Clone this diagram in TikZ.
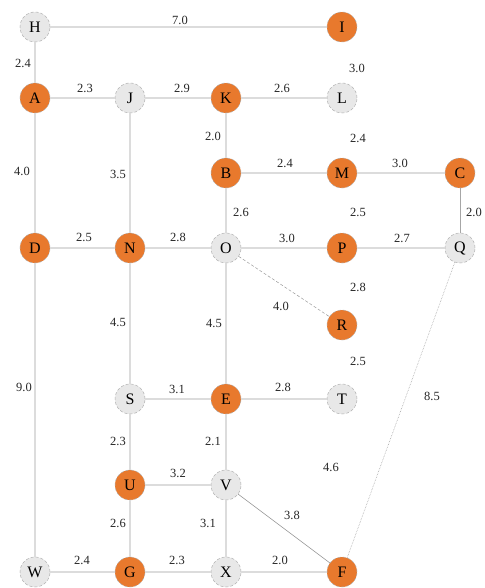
\documentclass[tikz,border=0pt]{standalone}
\usepackage{fontspec}
\setmainfont{Liberation Serif}
\definecolor{hub}{HTML}{E8792D}
\definecolor{plain}{HTML}{E8E8E8}
\definecolor{rim}{HTML}{B0B0B0}
\definecolor{link}{HTML}{DCDCDC}
\begin{document}
\begin{tikzpicture}[x=1pt,y=-1pt,
  vtx/.style={circle,minimum size=30pt,inner sep=0pt,draw=rim,densely dashed,line width=0.5pt,font=\fontsize{16}{16}\selectfont},
  hot/.style={vtx,fill=hub},
  cold/.style={vtx,fill=plain},
  edge/.style={draw=link,line width=1.4pt},
  lbl/.style={font=\fontsize{12.5}{12.5}\selectfont,text=black!85,inner sep=0pt}]
\useasboundingbox (0,0) rectangle (484,588);
% vertices
\node[cold] (H) at (35,27) {H};
\node[hot]  (I) at (342,27) {I};
\node[hot]  (A) at (35,98) {A};
\node[cold] (J) at (130,98) {J};
\node[hot]  (K) at (226,98) {K};
\node[cold] (L) at (342,98) {L};
\node[hot]  (B) at (226,173) {B};
\node[hot]  (M) at (342,173) {M};
\node[hot]  (C) at (460,173) {C};
\node[hot]  (D) at (35,248) {D};
\node[hot]  (N) at (130,248) {N};
\node[cold] (O) at (226,248) {O};
\node[hot]  (P) at (342,248) {P};
\node[cold] (Q) at (460,248) {Q};
\node[hot]  (R) at (342,325) {R};
\node[cold] (S) at (130,399) {S};
\node[hot]  (E) at (226,399) {E};
\node[cold] (T) at (342,399) {T};
\node[hot]  (U) at (130,485) {U};
\node[cold] (V) at (226,485) {V};
\node[cold] (W) at (35,572) {W};
\node[hot]  (G) at (130,572) {G};
\node[cold] (X) at (226,572) {X};
\node[hot]  (F) at (342,572) {F};
% connectors
\path[edge] (H) -- (I);
\path[edge] (H) -- (A);
\path[edge] (A) -- (J);
\path[edge] (J) -- (K);
\path[edge] (K) -- (L);
\path[edge] (K) -- (B);
\path[edge] (B) -- (M);
\path[edge] (M) -- (C);
\path[draw=gray!70,line width=1pt] (C) -- (Q);
\path[edge] (A) -- (D);
\path[edge] (J) -- (N);
\path[edge] (D) -- (N);
\path[edge] (N) -- (O);
\path[edge] (O) -- (P);
\path[edge] (P) -- (Q);
\path[edge] (B) -- (O);
\path[draw=gray!80,densely dashed,line width=0.5pt] (O) -- (R);
\path[edge] (N) -- (S);
\path[edge] (O) -- (E);
\path[edge] (D) -- (W);
\path[edge] (S) -- (E);
\path[edge] (E) -- (T);
\path[edge] (S) -- (U);
\path[edge] (E) -- (V);
\path[edge] (U) -- (V);
\path[edge] (U) -- (G);
\path[edge] (V) -- (X);
\path[draw=gray!80,line width=0.6pt] (V) -- (F);
\path[edge] (W) -- (G);
\path[edge] (G) -- (X);
\path[edge] (X) -- (F);
\path[draw=gray!70,densely dotted,line width=0.6pt] (Q) -- (F);
% weights
\node[lbl] (wHI) at (180,20) {7.0};
\node[lbl] (wHA) at (23,63) {2.4};
\node[lbl] (wAJ) at (85,88) {2.3};
\node[lbl] (wJK) at (182,88) {2.9};
\node[lbl] (wKL) at (282,88) {2.6};
\node[lbl] (wIL) at (357,68) {3.0};
\node[lbl] (wKB) at (213,136) {2.0};
\node[lbl] (wLM) at (358,138) {2.4};
\node[lbl] (wBM) at (285,163) {2.4};
\node[lbl] (wMC) at (400,163) {3.0};
\node[lbl] (wAD) at (22,171) {4.0};
\node[lbl] (wJN) at (118,174) {3.5};
\node[lbl] (wBO) at (241,212) {2.6};
\node[lbl] (wMP) at (358,212) {2.5};
\node[lbl] (wCQ) at (474,212) {2.0};
\node[lbl] (wDN) at (84,237) {2.5};
\node[lbl] (wNO) at (178,237) {2.8};
\node[lbl] (wOP) at (287,238) {3.0};
\node[lbl] (wPQ) at (402,238) {2.7};
\node[lbl] (wPR) at (358,287) {2.8};
\node[lbl] (wOR) at (281,306) {4.0};
\node[lbl] (wNS) at (118,322) {4.5};
\node[lbl] (wOE) at (214,323) {4.5};
\node[lbl] (wRT) at (358,361) {2.5};
\node[lbl] (wDW) at (24,387) {9.0};
\node[lbl] (wSE) at (177,389) {3.1};
\node[lbl] (wET) at (283,387) {2.8};
\node[lbl] (wQF) at (432,396) {8.5};
\node[lbl] (wSU) at (118,441) {2.3};
\node[lbl] (wEV) at (213,441) {2.1};
\node[lbl] (wUV) at (178,473) {3.2};
\node[lbl] (wTF) at (331,467) {4.6};
\node[lbl] (wVF) at (292,515) {3.8};
\node[lbl] (wUG) at (118,523) {2.6};
\node[lbl] (wVX) at (208,523) {3.1};
\node[lbl] (wWG) at (82,560) {2.4};
\node[lbl] (wGX) at (177,560) {2.3};
\node[lbl] (wXF) at (280,560) {2.0};
\end{tikzpicture}
\end{document}
